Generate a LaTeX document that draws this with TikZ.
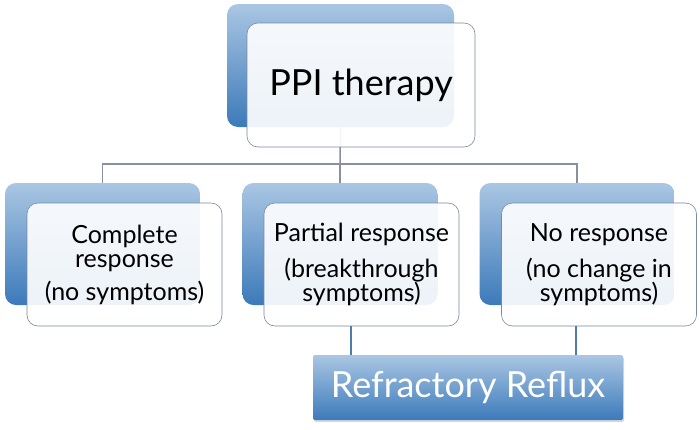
\documentclass[tikz,border=0pt]{standalone}
\usepackage{fontspec}
\setmainfont{Lato}
\usetikzlibrary{shadows}
\definecolor{boxlight}{RGB}{170,198,227}
\definecolor{boxdark}{RGB}{60,122,186}
\definecolor{framegray}{RGB}{122,138,160}
\definecolor{linkgray}{RGB}{135,145,158}
\definecolor{linkblue}{RGB}{78,124,172}
\begin{document}
\begin{tikzpicture}
[x=1pt,y=-1pt,%
 backstyle/.style={rounded corners=11pt,top color=boxlight,bottom color=boxdark,draw=none,minimum width=195pt,minimum height=122pt,inner sep=0pt},%
 frontstyle/.style={draw=framegray,semithick,rounded corners=11pt,fill=white,fill opacity=0.91,text opacity=1,align=center,minimum width=195pt,minimum height=123pt,inner sep=0pt,font=\fontsize{25}{24}\selectfont},%
 linkstyle/.style={line width=1.5pt,draw=linkgray},%
 refluxlink/.style={line width=2pt,draw=linkblue},%
 refluxstyle/.style={rounded corners=2pt,top color=boxlight,bottom color=boxdark,text=white,minimum width=310pt,minimum height=65pt,inner sep=0pt,font=\fontsize{36}{36}\selectfont,drop shadow={opacity=0.3,shadow xshift=1pt,shadow yshift=-2pt}}]
\useasboundingbox[fill=white] (0,0) rectangle (700,429);
%% back boxes
\node[backstyle,minimum width=227pt,minimum height=123pt] (ppiback) at (340.5,65.5) {};
\node[backstyle] (compback) at (102.5,244) {};
\node[backstyle] (partback) at (340,244) {};
\node[backstyle] (noneback) at (577,244) {};
%% tree lines
\coordinate (split) at (340,164);
\draw[linkstyle] (ppiback.south) -- (split);
\draw[linkstyle] (compback.north) |- (split) -| (noneback.north);
\draw[linkstyle] (split) -- (partback.north);
%% front boxes
\node[frontstyle,minimum width=228pt,minimum height=124pt,font=\fontsize{36}{36}\selectfont] (ppifront) at (361,85) {PPI therapy};
\node[frontstyle] (compfront) at (124.5,264.5) {Complete\\response\\[9pt](no symptoms)};
\node[frontstyle] (partfront) at (361.5,264.5) {Partial response\\[12pt](breakthrough\\symptoms)};
\node[frontstyle] (nonefront) at (599,264.5) {No response\\[12pt](no change in\\symptoms)};
%% refractory reflux
\node[refluxstyle] (reflux) at (468,387.5) {Refractory Reflux};
\draw[refluxlink] (351,0 |- partfront.south) -- (351,0 |- reflux.north);
\draw[refluxlink] (576,0 |- nonefront.south) -- (576,0 |- reflux.north);
\end{tikzpicture}
\end{document}
